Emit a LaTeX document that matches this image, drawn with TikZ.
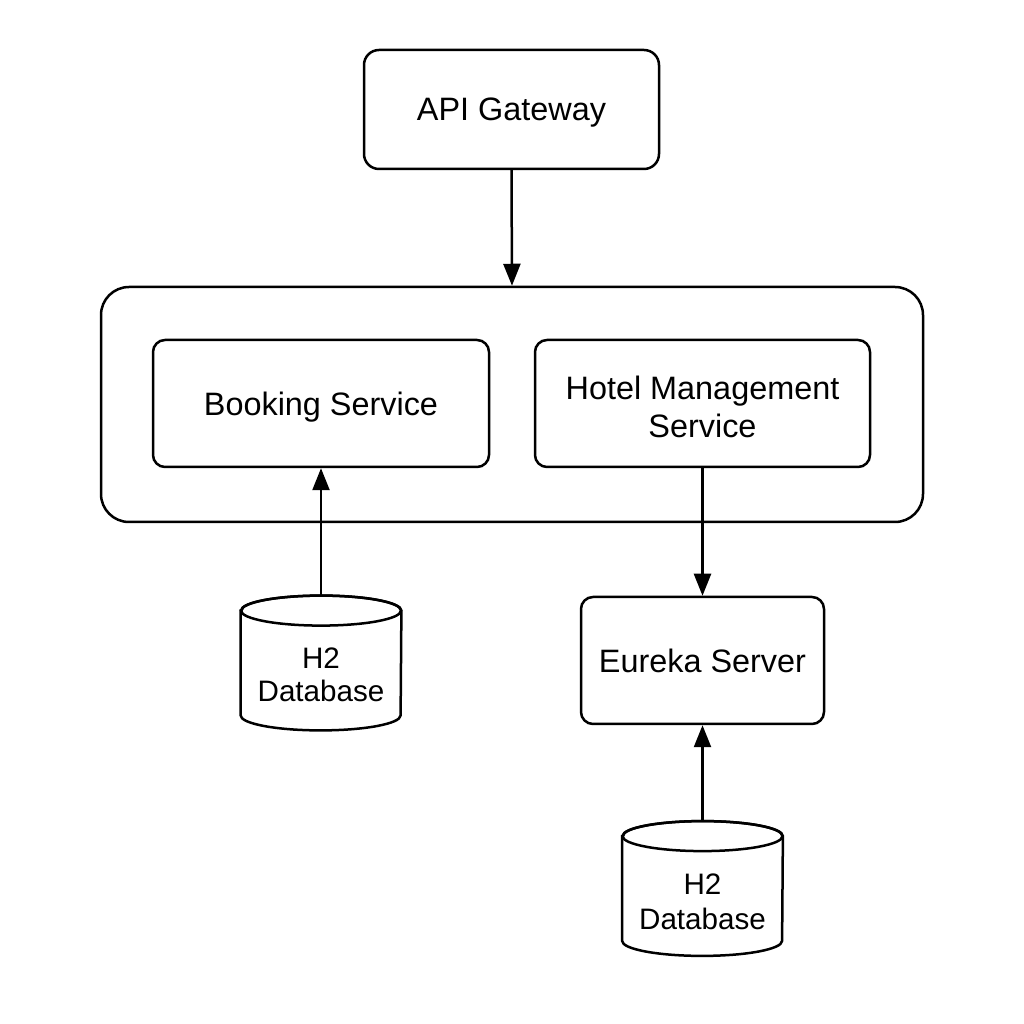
\documentclass[tikz,border=0pt]{standalone}
\usepackage{fontspec}
\setmainfont{Liberation Sans}
\usetikzlibrary{arrows.meta,calc}
\begin{document}
\begin{tikzpicture}[x=0.5pt,y=0.5pt,
  every node/.style={font=\fontsize{16.2pt}{19pt}\selectfont, align=center, inner sep=0pt},
  box/.style={draw, line width=1.25pt, rounded corners=6pt},
  dbtext/.style={font=\fontsize{14.8pt}{16.5pt}\selectfont, minimum width=80pt, minimum height=67pt},
  conn/.style={line width=1.25pt, -{Triangle[length=11pt,width=8.5pt]}},
  cyl/.style={draw, line width=1.25pt, fill=white}
]
\useasboundingbox (0,0) rectangle (1024,1024);
\fill[white] (0,0) rectangle (1024,1024);
% nodes
\node[box, rounded corners=7.5pt, minimum width=147.5pt, minimum height=59.5pt, text depth=0pt] (api) at (511.5,914.5) {API Gateway};
\node[box, rounded corners=14pt, minimum width=411pt, minimum height=117.5pt] (cont) at (512,619.5) {};
\node[box, minimum width=168pt, minimum height=63.5pt, text depth=0pt] (book) at (321,620.5) {Booking Service};
\node[box, minimum width=167.5pt, minimum height=63.5pt] (hotel) at (702.5,620.5) {};
\node[anchor=center] (hotelt) at ($(hotel.center)+(0,-3)$) {Hotel Management\\Service};
\node[box, minimum width=121.5pt, minimum height=63.5pt, text depth=0pt] (eur) at (702.5,363.5) {Eureka Server};
% databases
\node[dbtext] (db1) at (321,361) {};
\node[dbtext] (db2) at (702.5,135.5) {};
\foreach \d in {db1,db2}{
  \draw[cyl] ($(\d.north west)+(0,-15)$) -- ($(\d.south west)+(0,15)$)
     arc[start angle=180, end angle=360, x radius=80, y radius=15]
     -- ($(\d.north east)+(0,-15)$)
     arc[start angle=0, end angle=180, x radius=80, y radius=15] -- cycle;
  \draw[line width=1.25pt] ($(\d.north)+(0,-15)$) ellipse[x radius=80, y radius=15];
}
\node[font=\fontsize{14.8pt}{16.5pt}\selectfont] (db1t) at ($(db1.center)+(0,-12)$) {H2\\Database};
\node[font=\fontsize{14.8pt}{17.5pt}\selectfont] (db2t) at ($(db2.center)+(0,-13)$) {H2\\Database};
% connectors
\draw[conn] (api.south) -- (cont.north);
\draw[conn] (db1.north) -- (book.south);
\draw[conn] (hotel.south) -- (eur.north);
\draw[conn] (db2.north) -- (eur.south);
\end{tikzpicture}
\end{document}
